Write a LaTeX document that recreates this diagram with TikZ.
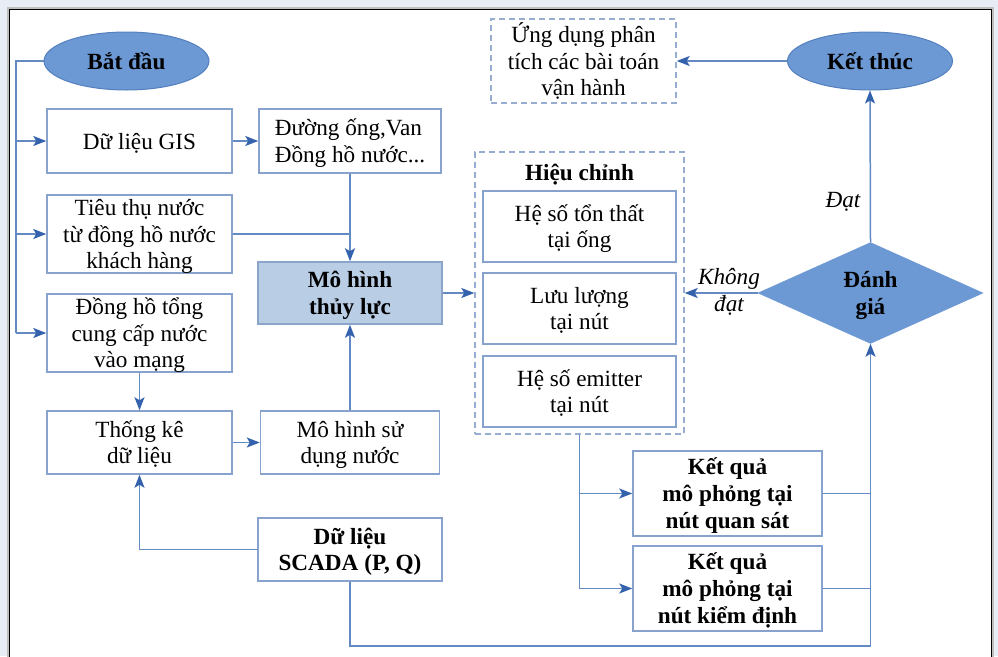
\documentclass[tikz,border=0pt]{standalone}
\usepackage{fontspec}
\setmainfont{Liberation Serif}
\usetikzlibrary{arrows.meta,shapes.geometric}
\definecolor{pagebg}{RGB}{232,236,244}
\definecolor{boxc}{RGB}{135,162,205}
\definecolor{linec}{RGB}{100,138,196}
\definecolor{arrowc}{RGB}{52,98,172}
\definecolor{ellfill}{RGB}{108,152,211}
\definecolor{elldraw}{RGB}{84,128,192}
\definecolor{mhfill}{RGB}{185,205,229}
\definecolor{mhdraw}{RGB}{138,164,202}
\definecolor{dashc}{RGB}{150,172,208}
\tikzset{
  base/.style={font=\fontsize{23.2}{26.7}\selectfont, align=center, inner sep=0pt},
  lone/.style={text height=16pt, text depth=0pt},
  ltwo/.style={text height=42.7pt, text depth=0pt},
  lthree/.style={text height=69.4pt, text depth=0pt},
  bx/.style 2 args={base, draw=boxc, line width=1.5pt, fill=white, minimum width=#1pt, minimum height=#2pt},
  dbx/.style 2 args={base, draw=dashc, line width=1.4pt, dash pattern=on 6pt off 4pt, minimum width=#1pt, minimum height=#2pt},
  ell/.style={base, lone, ellipse, fill=ellfill, draw=elldraw, line width=1pt, minimum width=165pt, minimum height=58pt, font=\fontsize{23.2}{26.7}\selectfont\bfseries},
  ln/.style={draw=linec, line width=1.5pt},
  arr/.style={ln, -{Stealth[length=13pt, width=10pt, inset=3pt, color=arrowc]}},
  lbl/.style={base, font=\fontsize{23.2}{26.7}\selectfont\itshape}
}
\begin{document}
\begin{tikzpicture}[x=1pt, y=-1pt]
\useasboundingbox (0,0) rectangle (998,656);
\fill[pagebg] (0,0) rectangle (998,656);
\begin{scope}
\clip (0,0) rectangle (998,656);
\fill[white] (9,9) rectangle (992,680);
\draw[gray!50, line width=2.5pt] (8,8) rectangle (993,680);
\draw[black, line width=1.5pt] (9.5,9.5) rectangle (991.5,680);
\end{scope}

% left column
\node[ell] (start) at (126.5,61) {Bắt đầu};
\node[bx={185}{64}, lone] (gis) at (139.5,141) {Dữ liệu GIS};
\node[bx={182}{64}, ltwo, align=left] (duong) at (350,141) {Đường ống,Van\\Đồng hồ nước...};
\node[bx={185}{78}, lthree] (tieu) at (139.5,234) {Tiêu thụ nước\\từ đồng hồ nước\\khách hàng};
\node[bx={184}{62}, ltwo, fill=mhfill, draw=mhdraw, font=\fontsize{23.2}{26.7}\selectfont\bfseries] (mh) at (350,293) {Mô hình\\thủy lực};
\node[bx={185}{78}, lthree] (dh) at (139.5,333) {Đồng hồ tổng\\cung cấp nước\\vào mạng};
\node[bx={185}{63}, ltwo] (tk) at (139.5,442.5) {Thống kê\\dữ liệu};
\node[bx={179}{63}, ltwo] (msd) at (350,442.5) {Mô hình sử\\dụng nước};
\node[bx={184}{63}, ltwo, font=\fontsize{23.2}{26.7}\selectfont\bfseries] (scada) at (350,549.5) {Dữ liệu\\SCADA (P, Q)};

% right side
\node[dbx={185}{84}, lthree] (ud) at (583.5,61) {Ứng dụng phân\\tích các bài toán\\vận hành};
\node[ell] (kt) at (870,61) {Kết thúc};
\node[dbx={209}{282}] (hc) at (579.5,293) {};
\node[base, lone, font=\fontsize{23.2}{26.7}\selectfont\bfseries] (hct) at (579.5,172) {Hiệu chỉnh};
\node[bx={193}{71}, ltwo] (hsa) at (579.5,226.5) {Hệ số tổn thất\\tại ống};
\node[bx={193}{71}, ltwo] (ll) at (579.5,308.5) {Lưu lượng\\tại nút};
\node[bx={193}{71}, ltwo] (hse) at (579.5,391.5) {Hệ số emitter\\tại nút};
\node[base, ltwo, diamond, aspect=2.2, fill=ellfill, draw=ellfill, line width=0.5pt, minimum width=225pt, minimum height=101pt, font=\fontsize{23.2}{26.7}\selectfont\bfseries] (dg) at (870.5,293) {Đánh\\giá};
\node[bx={189}{85}, lthree, font=\fontsize{23.2}{26.7}\selectfont\bfseries] (k1) at (727.5,493.5) {Kết quả\\mô phỏng tại\\nút quan sát};
\node[bx={189}{85}, lthree, font=\fontsize{23.2}{26.7}\selectfont\bfseries] (k2) at (727.5,588.5) {Kết quả\\mô phỏng tại\\nút kiểm định};

% labels
\node[lbl, lone] (ldat) at (843,199) {Đạt};
\node[lbl, ltwo] (lkd) at (729,290) {Không\\đạt};

% coordinates
\coordinate (trunk) at (16,61);
\coordinate (bot) at (870.5,646);

% left connectors
\draw[ln] (start.west) -- (trunk) -- (trunk |- dh.west);
\draw[arr] (trunk |- gis.west) -- (gis.west);
\draw[arr] (trunk |- tieu.west) -- (tieu.west);
\draw[arr] (trunk |- dh.west) -- (dh.west);
\draw[arr] (gis.east) -- (duong.west);
\draw[arr] (duong.south) -- (mh.north);
\draw[ln] (tieu.east) -- (duong.south |- tieu.east);
\draw[arr] (msd.north) -- (mh.south);
\draw[arr] (dh.south) -- (tk.north);
\draw[arr] (tk.east) -- (msd.west);
\draw[arr] (scada.west) -| (tk.south);
\draw[ln] (scada.south) |- (bot);
\draw[arr] (mh.east) -- (hc.west);

% right connectors
\draw[arr] (dg.west) -- (hc.east);
\draw[arr] (dg.north) -- (kt.south);
\draw[arr] (kt.west) -- (ud.east);
\draw[ln] (hc.south) -- (hc.south |- k2.west);
\draw[arr] (hc.south |- k1.west) -- (k1.west);
\draw[arr] (hc.south |- k2.west) -- (k2.west);
\draw[ln] (k1.east) -- (bot |- k1.east);
\draw[ln] (k2.east) -- (bot |- k2.east);
\draw[arr] (bot) -- (dg.south);
\end{tikzpicture}
\end{document}
